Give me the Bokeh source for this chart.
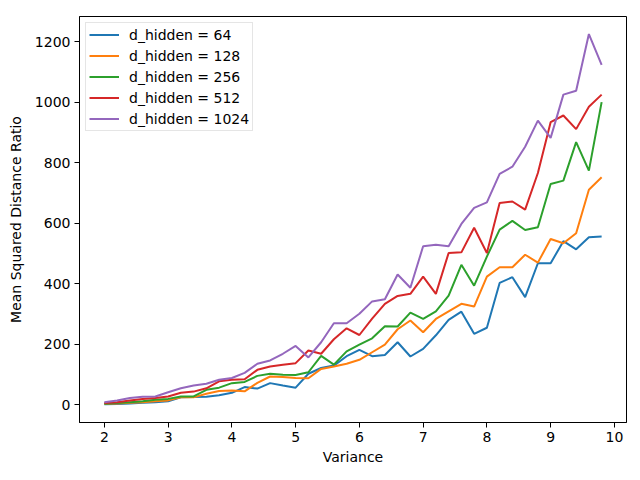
from bokeh.plotting import figure
from bokeh.models import Range1d, FixedTicker, Legend, LegendItem
from bokeh.embed import file_html
from bokeh.resources import INLINE

variance = [round(2.0 + 0.2 * i, 1) for i in range(40)]

h64 = [2, 3, 5, 7, 9, 12, 25, 26, 27, 32, 40, 59, 54, 72, 64, 57, 103, 122, 130, 161,
       182, 161, 165, 207, 160, 185, 230, 281, 308, 235, 255, 403, 422, 356, 468, 468,
       541, 514, 554, 556]
h128 = [4, 5, 7, 9, 12, 15, 25, 25, 37, 46, 48, 45, 73, 94, 92, 89, 88, 119, 127, 136,
        149, 174, 199, 250, 279, 240, 284, 309, 334, 325, 424, 455, 455, 496, 470, 548,
        534, 567, 711, 752]
h256 = [4, 6, 9, 12, 17, 20, 28, 28, 50, 57, 72, 76, 96, 103, 100, 99, 108, 162, 133, 177,
        199, 220, 260, 259, 305, 284, 309, 361, 463, 394, 490, 579, 608, 578, 587, 730,
        741, 868, 774, 1000]
h512 = [6, 9, 15, 20, 23, 28, 40, 44, 55, 78, 83, 85, 116, 127, 133, 138, 180, 169, 217, 253,
        231, 285, 334, 360, 367, 424, 367, 502, 504, 585, 502, 667, 672, 645, 766, 934,
        956, 911, 985, 1025]
h1024 = [9, 15, 23, 27, 28, 42, 55, 64, 70, 83, 89, 106, 136, 147, 169, 195, 157, 207, 270, 270,
         301, 342, 349, 431, 387, 524, 529, 524, 598, 651, 669, 763, 787, 853, 939, 882,
         1025, 1038, 1225, 1123]

series = [
    ("d_hidden = 64", h64, "#1f77b4"),
    ("d_hidden = 128", h128, "#ff7f0e"),
    ("d_hidden = 256", h256, "#2ca02c"),
    ("d_hidden = 512", h512, "#d62728"),
    ("d_hidden = 1024", h1024, "#9467bd"),
]

FONT = "DejaVu Sans"

p = figure(width=636, height=476, output_backend="svg", toolbar_location=None,
           x_range=Range1d(1.61, 10.19), y_range=Range1d(-58, 1283),
           min_border_left=79, min_border_right=10, min_border_top=16, min_border_bottom=54)
p.xgrid.visible = False
p.ygrid.visible = False
p.outline_line_color = "black"
p.outline_line_width = 1
p.background_fill_color = "white"
p.border_fill_color = "white"

items = []
for label, ys, color in series:
    r = p.line(variance, ys, line_color=color, line_width=2)
    items.append(LegendItem(label=label, renderers=[r]))

p.xaxis.ticker = FixedTicker(ticks=[2, 3, 4, 5, 6, 7, 8, 9, 10])
p.yaxis.ticker = FixedTicker(ticks=[0, 200, 400, 600, 800, 1000, 1200])
p.xaxis.axis_label = "Variance"
p.yaxis.axis_label = "Mean Squared Distance Ratio"
for ax in (p.xaxis, p.yaxis):
    ax.axis_label_text_font = FONT
    ax.axis_label_text_font_size = "14px"
    ax.axis_label_text_font_style = "normal"
    ax.axis_label_text_color = "black"
    ax.major_label_text_font = FONT
    ax.major_label_text_font_size = "14px"
    ax.major_label_text_color = "black"
    ax.minor_tick_line_color = None
    ax.major_tick_out = 5
    ax.major_tick_in = 0
    ax.major_tick_line_color = "black"
    ax.axis_line_color = "black"
    ax.major_label_standoff = 4
p.xaxis.axis_label_standoff = 4
p.yaxis.axis_label_standoff = 8

legend = Legend(items=items, location="top_left")
legend.label_text_font = FONT
legend.label_text_font_size = "14px"
legend.label_text_color = "black"
legend.glyph_width = 30
legend.glyph_height = 17
legend.label_height = 17
legend.spacing = 4
legend.padding = 3
legend.margin = 6
legend.label_standoff = 10
legend.border_line_color = "#cccccc"
legend.border_line_width = 1
legend.background_fill_alpha = 0.8
p.add_layout(legend)

open("out.html", "w").write(file_html(p, INLINE))
